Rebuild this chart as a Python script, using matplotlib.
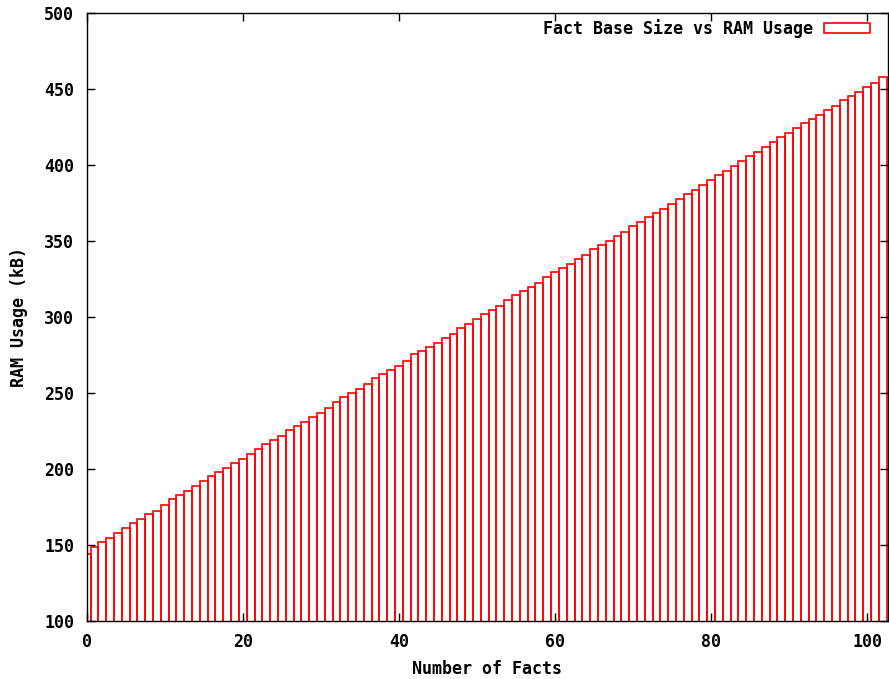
import numpy as np
import matplotlib
matplotlib.use("Agg")
import matplotlib.pyplot as plt

# number of facts in the fact base
facts = np.arange(0, 103)

# RAM usage, one value per fact count
ramUsage = [
	144.0, 148.7, 151.8, 154.4, 157.5, 161.2, 164.1, 166.9, 170.0, 172.4,
	176.3, 179.9, 182.9, 185.5, 188.6, 192.1, 195.0, 197.8, 200.7, 203.6,
	206.6, 209.9, 213.2, 216.1, 218.9, 221.7, 225.2, 228.3, 230.9, 234.0,
	236.6, 239.7, 244.1, 247.2, 249.8, 252.6, 255.5, 259.5, 262.3, 264.9,
	267.8, 270.6, 275.3, 277.2, 280.1, 282.9, 286.0, 288.6, 292.4, 295.2,
	298.3, 301.6, 304.4, 307.2, 311.0, 314.1, 316.9, 319.5, 322.4, 326.1,
	329.2, 331.8, 334.9, 337.8, 340.6, 344.3, 347.2, 350.0, 352.9, 355.7,
	359.5, 362.5, 365.4, 368.0, 371.1, 373.9, 377.4, 380.5, 383.5, 386.5,
	390.0, 393.0, 396.0, 399.0, 402.5, 405.5, 408.5, 411.5, 415.0, 418.0,
	421.0, 424.0, 427.3, 430.3, 432.7, 436.0, 438.6, 442.6, 445.2, 448.0,
	450.9, 454.0, 457.9,
]

xTicks = [0, 20, 40, 60, 80, 100]
yTicks = [100, 150, 200, 250, 300, 350, 400, 450, 500]

plt.rcParams['font.family'] = ['DejaVu Sans Mono']
plt.rcParams['font.weight'] = 'bold'
plt.rcParams['axes.labelweight'] = 'bold'
plt.rcParams['font.size'] = 12

fig = plt.figure(figsize=(8.89, 6.79), dpi=100)
ax = fig.add_axes([86.7/889, (679-620.7)/679, (887.5-86.7)/889, (620.7-12.7)/679])

ax.bar(facts, ramUsage, width=1.0, bottom=0, fill=False, edgecolor='#ff0000',
	linewidth=1.2, label="Fact Base Size vs RAM Usage", align='center')

ax.set_xlim(0, 102.6)
ax.set_ylim(100, 500)
ax.set_xticks(xTicks)
ax.set_yticks(yTicks)
ax.tick_params(direction='in', length=6, width=1, top=True, right=True, pad=9)
for s in ax.spines.values():
	s.set_linewidth(1)
	s.set_color('black')

ax.set_xlabel("Number of Facts", labelpad=6)
ax.set_ylabel("RAM Usage (kB)", labelpad=12)

leg = ax.legend(loc='upper right', bbox_to_anchor=(0.9865, 1.0), frameon=False,
	markerfirst=False, handlelength=2.75, handleheight=0.54, borderaxespad=0,
	handletextpad=0.65)

fig.savefig("out.png", dpi=100)
